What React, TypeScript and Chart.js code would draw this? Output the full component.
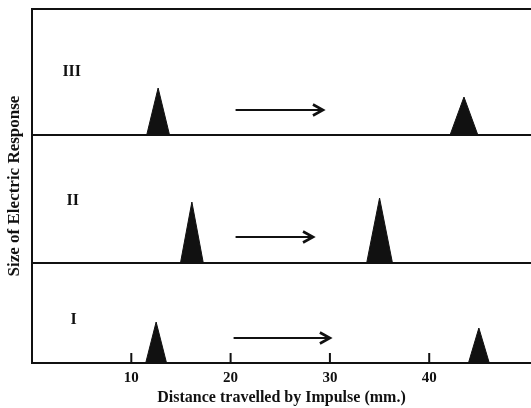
import React, { useEffect, useRef } from 'react';
import { Chart, registerables } from 'chart.js';

Chart.register(...registerables);

// ---- data ----
const panelNames = ['I', 'II', 'III'];
const panelBaselines = [0, 100, 228]; // response-axis offset of each panel
const peakCenters = [[12.5, 45.0], [16.1, 35.0], [12.7, 43.5]]; // mm
const peakHeights = [[41, 35], [61, 65], [47, 38]];
const peakHalfWidths = [[1.05, 1.05], [1.15, 1.3], [1.15, 1.4]]; // mm
const arrowStarts = [20.3, 20.5, 20.5]; // mm
const arrowEnds = [30.0, 28.3, 29.3]; // mm
const arrowLevels = [25, 26, 25]; // above panel baseline
const labelX = [4.2, 4.1, 4.0]; // mm
const labelLevels = [43, 62, 63]; // above panel baseline
const xTicks = [10, 20, 30, 40];
const xMin = 0;
const xMax = 50.25;
const yMax = 354;

const ink = '#111111';
const serif = '"Liberation Serif", "DejaVu Serif", serif';

const annotations = {
  id: 'annotations',
  afterDatasetsDraw(chart: any) {
    const { ctx } = chart;
    const x = chart.scales.x;
    const y = chart.scales.y;
    ctx.save();
    ctx.strokeStyle = ink;
    ctx.fillStyle = ink;
    ctx.lineCap = 'butt';
    ctx.lineJoin = 'miter';
    panelNames.forEach((name, i) => {
      const yy = y.getPixelForValue(panelBaselines[i] + arrowLevels[i]);
      const x0 = x.getPixelForValue(arrowStarts[i]);
      const x1 = x.getPixelForValue(arrowEnds[i]);
      ctx.lineWidth = 2.2;
      ctx.beginPath();
      ctx.moveTo(x0, yy);
      ctx.lineTo(x1 - 1, yy);
      ctx.stroke();
      ctx.lineWidth = 2.6;
      ctx.beginPath();
      ctx.moveTo(x1 - 10, yy - 5.5);
      ctx.lineTo(x1, yy);
      ctx.lineTo(x1 - 10, yy + 5.5);
      ctx.stroke();

      ctx.font = 'bold 16px ' + serif;
      ctx.textAlign = 'center';
      ctx.textBaseline = 'middle';
      ctx.fillText(
        name,
        x.getPixelForValue(labelX[i]),
        y.getPixelForValue(panelBaselines[i] + labelLevels[i])
      );
    });
    ctx.restore();
  },
};

export default function App() {
  const canvasRef = useRef<HTMLCanvasElement>(null);

  useEffect(() => {
    const canvas = canvasRef.current;
    if (!canvas) return;

    const datasets: any[] = [];

    // panel baselines for II and III (panel I uses the x axis line)
    panelBaselines.forEach((b, i) => {
      if (i === 0) return;
      datasets.push({
        type: 'line',
        data: [
          { x: xMin, y: b },
          { x: xMax, y: b },
        ],
        borderColor: ink,
        borderWidth: 2,
        pointRadius: 0,
        fill: false,
        clip: false,
      });
    });

    // peaks
    panelBaselines.forEach((b, i) => {
      peakCenters[i].forEach((c, j) => {
        const h = peakHeights[i][j];
        const w = peakHalfWidths[i][j];
        datasets.push({
          type: 'line',
          data: [
            { x: c - w, y: b },
            { x: c, y: b + h },
            { x: c + w, y: b },
          ],
          borderColor: ink,
          borderWidth: 1,
          backgroundColor: ink,
          pointRadius: 0,
          tension: 0,
          fill: { value: b },
        });
      });
    });

    // inward tick marks on the bottom axis
    datasets.push({
      type: 'scatter',
      data: xTicks.map((t) => ({ x: t, y: 5 })),
      pointStyle: 'line',
      rotation: 90,
      radius: 5,
      borderColor: ink,
      borderWidth: 2,
      backgroundColor: ink,
    });

    const chart = new Chart(canvas, {
      type: 'line',
      data: { datasets },
      options: {
        responsive: false,
        animation: false,
        layout: { padding: 0, autoPadding: false },
        plugins: {
          legend: { display: false },
          tooltip: { enabled: false },
        },
        scales: {
          x: {
            type: 'linear',
            position: 'bottom',
            min: xMin,
            max: xMax,
            afterBuildTicks: (s: any) => {
              s.ticks = xTicks.map((v) => ({ value: v }));
            },
            afterFit: (s: any) => {
              s.height = 45;
            },
            grid: { display: true, drawOnChartArea: false, drawTicks: false },
            border: { display: true, color: ink, width: 2 },
            ticks: {
              color: ink,
              padding: 6,
              maxRotation: 0,
              font: { family: serif, size: 15, weight: 'bold' },
            },
            title: {
              display: true,
              text: 'Distance travelled by Impulse (mm.)',
              color: ink,
              padding: { top: 0, bottom: 1 },
              font: { family: serif, size: 16, weight: 'bold' },
            },
          },
          xTop: {
            type: 'linear',
            position: 'top',
            min: xMin,
            max: xMax,
            afterFit: (s: any) => {
              s.height = 9;
            },
            grid: { display: true, drawOnChartArea: false, drawTicks: false },
            border: { display: true, color: ink, width: 2 },
            ticks: { display: false },
          },
          y: {
            type: 'linear',
            position: 'left',
            min: 0,
            max: yMax,
            afterFit: (s: any) => {
              s.width = 32;
            },
            grid: { display: true, drawOnChartArea: false, drawTicks: false },
            border: { display: true, color: ink, width: 2 },
            ticks: { display: false },
            title: {
              display: true,
              text: 'Size of Electric Response',
              color: ink,
              padding: { top: 4, bottom: 0 },
              font: { family: serif, size: 17, weight: 'bold' },
            },
          },
        },
      },
      plugins: [annotations],
    });

    return () => chart.destroy();
  }, []);

  return (
    <div style={{ position: 'absolute', left: 0, top: 0, width: 531, height: 408, background: '#fff' }}>
      <canvas ref={canvasRef} width={531} height={408} />
    </div>
  );
}
